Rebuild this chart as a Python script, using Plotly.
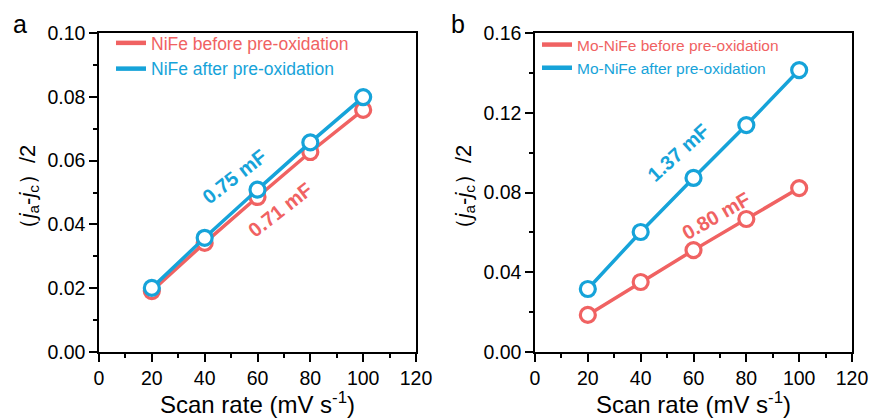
import plotly.graph_objects as go

scan_rate = [20, 40, 60, 80, 100]
nife_before = [0.0191, 0.0342, 0.0486, 0.0627, 0.0759]
nife_after = [0.0201, 0.0358, 0.0509, 0.0657, 0.0799]
monife_before = [0.0186, 0.0351, 0.0511, 0.0667, 0.0822]
monife_after = [0.0316, 0.0602, 0.0873, 0.1138, 0.1414]

RED = "#F06262"
BLUE = "#16A3D9"
FONT = "Liberation Sans, Arial, sans-serif"

fig = go.Figure()

def add_series(x, y, color, xa, ya, name, legend):
    fig.add_trace(go.Scatter(
        x=x, y=y, mode="lines+markers", xaxis=xa, yaxis=ya, showlegend=False,
        line=dict(color=color, width=3.5),
        marker=dict(symbol="circle", size=15, color="white",
                    line=dict(color=color, width=3.2)),
    ))
    fig.add_trace(go.Scatter(
        x=[None], y=[None], mode="lines", xaxis=xa, yaxis=ya, legend=legend,
        name=f"<span style='color:{color}'>{name}</span>",
        line=dict(color=color, width=4.5),
    ))

add_series(scan_rate, nife_before, RED, "x", "y", "NiFe before pre-oxidation", "legend")
add_series(scan_rate, nife_after, BLUE, "x", "y", "NiFe after pre-oxidation", "legend")
add_series(scan_rate, monife_before, RED, "x2", "y2", "Mo-NiFe before pre-oxidation", "legend2")
add_series(scan_rate, monife_after, BLUE, "x2", "y2", "Mo-NiFe after pre-oxidation", "legend2")

ytitle = "（<i>j</i><sub>a</sub>-<i>j</i><sub>c</sub>）/2"
xtitle = "Scan rate (mV s<sup>-1</sup>)"

def xaxis_cfg(domain, anchor):
    return dict(domain=domain, anchor=anchor, range=[0, 120], dtick=20, tick0=0,
                automargin=False,
                showline=True, linecolor="black", linewidth=1.5, mirror=True,
                ticks="outside", ticklen=8, tickwidth=1.5, tickcolor="black",
                minor=dict(dtick=10, ticks="outside", ticklen=4, tickwidth=1.5, tickcolor="black"),
                showgrid=False, zeroline=False,
                tickfont=dict(size=19.5, color="black", family=FONT),
                title=dict(text=xtitle, font=dict(size=24, color="black", family=FONT), standoff=2))

def yaxis_cfg(domain, anchor, rng, dt, fmt):
    return dict(domain=domain, anchor=anchor, range=rng, dtick=dt, tick0=0, tickformat=fmt,
                automargin=False,
                showline=True, linecolor="black", linewidth=1.5, mirror=True,
                ticks="outside", ticklen=8, tickwidth=1.5, tickcolor="black",
                minor=dict(dtick=dt / 2, ticks="outside", ticklen=4, tickwidth=1.5, tickcolor="black"),
                showgrid=False, zeroline=False,
                tickfont=dict(size=19.5, color="black", family=FONT),
                title=dict(text=ytitle, font=dict(size=22, color="black", family=FONT), standoff=6))

ydom = [1 - 352 / 418, 1 - 33 / 418]
fig.update_layout(
    width=872, height=418, margin=dict(l=0, r=0, t=0, b=0, autoexpand=False),
    paper_bgcolor="white", plot_bgcolor="white",
    font=dict(family=FONT, color="black"),
    xaxis=xaxis_cfg([99 / 872, 416 / 872], "y"),
    yaxis=yaxis_cfg(ydom, "x", [0, 0.10], 0.02, ".2f"),
    xaxis2=xaxis_cfg([535 / 872, 852 / 872], "y2"),
    yaxis2=yaxis_cfg(ydom, "x2", [0, 0.16], 0.04, ".2f"),
    legend=dict(x=111 / 872, y=1 - 25 / 418, xanchor="left", yanchor="top",
                bgcolor="rgba(0,0,0,0)", font=dict(size=17.5, family=FONT),
                tracegroupgap=0, itemwidth=30),
    legend2=dict(x=537 / 872, y=1 - 28 / 418, xanchor="left", yanchor="top",
                 bgcolor="rgba(0,0,0,0)", font=dict(size=15.5, family=FONT),
                 tracegroupgap=0, itemwidth=30),
)

ann_font = dict(family=FONT, size=20)
fig.add_annotation(text="<b>0.75 mF</b>", x=51, y=0.055, xref="x", yref="y", showarrow=False,
                   textangle=-38, font=dict(color=BLUE, **ann_font))
fig.add_annotation(text="<b>0.71 mF</b>", x=68.5, y=0.0445, xref="x", yref="y", showarrow=False,
                   textangle=-38, font=dict(color=RED, **ann_font))
fig.add_annotation(text="<b>1.37 mF</b>", x=54, y=0.100, xref="x2", yref="y2", showarrow=False,
                   textangle=-42, font=dict(color=BLUE, **ann_font))
fig.add_annotation(text="<b>0.80 mF</b>", x=68.5, y=0.0680, xref="x2", yref="y2", showarrow=False,
                   textangle=-30, font=dict(color=RED, **ann_font))

fig.add_annotation(text="a", x=20 / 872, y=1 - 24 / 418, xref="paper", yref="paper",
                   xanchor="center", yanchor="middle",
                   showarrow=False, font=dict(size=25, family=FONT, color="black"))
fig.add_annotation(text="b", x=458 / 872, y=1 - 24 / 418, xref="paper", yref="paper",
                   xanchor="center", yanchor="middle",
                   showarrow=False, font=dict(size=25, family=FONT, color="black"))

fig.write_html("out.html")
